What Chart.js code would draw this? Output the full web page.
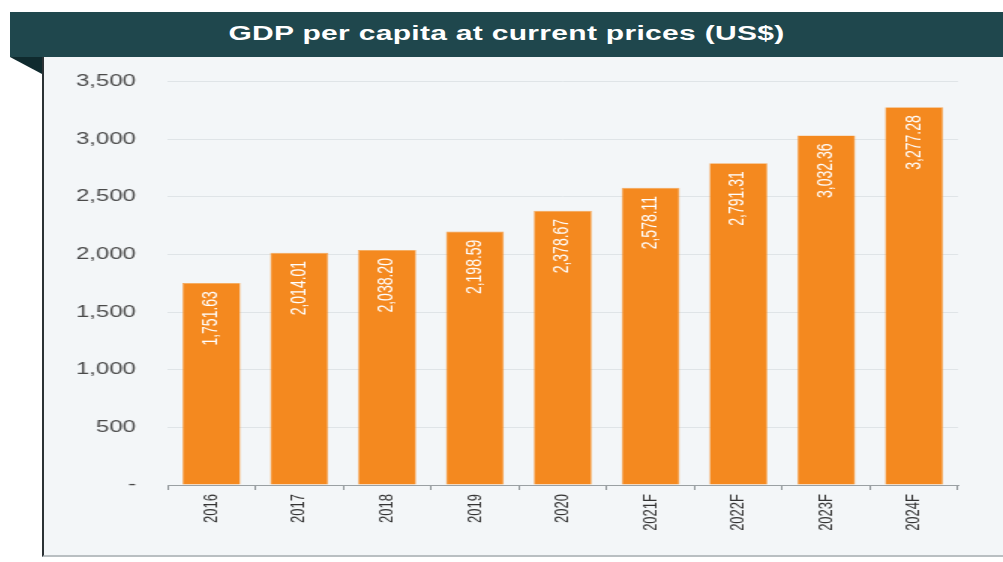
<!DOCTYPE html>
<html>
<head>
<meta charset="utf-8">
<script src="https://cdn.jsdelivr.net/npm/chart.js@4"></script>
<style>
  html, body { margin: 0; padding: 0; background: #fff; }
  body { width: 1003px; height: 562px; position: relative; overflow: hidden; font-family: "Liberation Sans", Arial, sans-serif; }
  .header { position: absolute; left: 10px; top: 12px; width: 993px; height: 45px; background: #1f474d; }
  .header h1 { margin: 0; position: absolute; left: 0; right: 0; top: 10px; text-align: center; color: #fff;
    font-size: 20px; font-weight: bold; transform: scaleX(1.5); transform-origin: 50% 50%; letter-spacing: 0.2px; }
  .fold { position: absolute; left: 10px; top: 57px; width: 0; height: 0;
    border-top: 17px solid #0f2a2e; border-left: 32px solid transparent; }
  .panel { position: absolute; left: 42px; top: 57px; width: 961px; height: 498px; background: #f3f6f8;
    border-left: 2px solid #2b3235; border-bottom: 2px solid #b9bfc2; }
  .stretch { position: absolute; left: 40px; top: 51px; width: 637px; height: 504px;
    transform: scaleX(1.5); transform-origin: 0 0; }
</style>
</head>
<body>
<div class="header"><h1>GDP per capita at current prices (US$)</h1></div>
<div class="fold"></div>
<div class="panel"></div>
<div class="stretch"><canvas id="gdpChart"></canvas></div>
<script>
document.addEventListener('DOMContentLoaded', function() {
    // Data
    const years = ['2016', '2017', '2018', '2019', '2020', '2021F', '2022F', '2023F', '2024F'];
    const gdpPerCapita = [1751.63, 2014.01, 2038.20, 2198.59, 2378.67, 2578.11, 2791.31, 3032.36, 3277.28];
    const yTicks = [0, 500, 1000, 1500, 2000, 2500, 3000, 3500];

    const fmt = new Intl.NumberFormat('en-US', { minimumFractionDigits: 2, maximumFractionDigits: 2 });

    // White value labels rotated inside each bar
    const barLabels = {
        id: 'barLabels',
        afterDatasetsDraw(chart) {
            const ctx = chart.ctx;
            const meta = chart.getDatasetMeta(0);
            ctx.save();
            ctx.fillStyle = '#ffffff';
            ctx.font = '14px "Liberation Sans", Arial, sans-serif';
            ctx.textAlign = 'right';
            ctx.textBaseline = 'middle';
            meta.data.forEach(function(bar, i) {
                ctx.save();
                ctx.translate(bar.x, bar.y + 8);
                ctx.rotate(-Math.PI / 2);
                ctx.fillText(fmt.format(gdpPerCapita[i]), 0, 0);
                ctx.restore();
            });
            ctx.restore();
        }
    };

    new Chart(document.getElementById('gdpChart'), {
        type: 'bar',
        data: {
            labels: years,
            datasets: [{
                data: gdpPerCapita,
                backgroundColor: '#f4891f',
                borderColor: '#f7a552',
                borderWidth: 0.6,
                categoryPercentage: 1,
                barPercentage: 0.66
            }]
        },
        options: {
            responsive: true,
            maintainAspectRatio: false,
            animation: false,
            layout: { padding: { top: 12, right: 25, left: 0, bottom: 0 } },
            plugins: {
                legend: { display: false },
                tooltip: { enabled: false }
            },
            scales: {
                x: {
                    offset: true,
                    grid: { display: true, offset: true, drawOnChartArea: false, drawTicks: true, tickLength: 5, color: '#8f9598' },
                    border: { display: true, color: '#9aa0a3', width: 1 },
                    ticks: {
                        minRotation: 90, maxRotation: 90, padding: 4,
                        color: '#333333',
                        font: { family: '"Liberation Sans", Arial, sans-serif', size: 13 }
                    },
                    afterFit: function(scale) { scale.height = 70; }
                },
                y: {
                    min: 0, max: 3500,
                    afterBuildTicks: function(scale) { scale.ticks = yTicks.map(v => ({ value: v })); },
                    grid: { color: '#dfe4e7', lineWidth: 1, drawTicks: false },
                    border: { display: false },
                    ticks: {
                        padding: 21,
                        color: '#4a4a4a',
                        font: { family: '"Liberation Sans", Arial, sans-serif', size: 16 },
                        callback: function(value) {
                            return value === 0 ? '-' : value.toLocaleString('en-US');
                        }
                    },
                    afterFit: function(scale) { scale.width = 85; }
                }
            }
        },
        plugins: [barLabels]
    });
});
</script>
</body>
</html>
